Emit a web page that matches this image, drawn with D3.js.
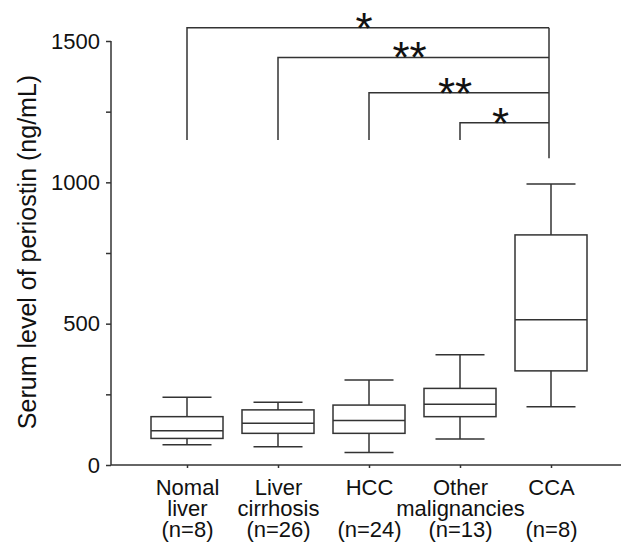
<!DOCTYPE html>
<html lang="en">
<head>
  <meta charset="UTF-8" />
  <title>Serum periostin box plot</title>
  <script src="https://d3js.org/d3.v7.min.js"></script>
  <style>
    body {
      margin: 0;
      background: #fff;
      font-family: "Liberation Sans", Arial, sans-serif;
    }
    svg {
      display: block;
    }
    .axis path, .axis line, .box line, .box rect, .bracket path {
      stroke: #333;
      stroke-width: 1.5px;
      fill: none;
    }
    text {
      fill: #111;
    }
  </style>
</head>
<body>
<script>
// groups and their labels (one entry per line)
const groups = ['Nomal liver', 'Liver cirrhosis', 'HCC', 'Other malignancies', 'CCA'];
const labelLines = [
  ['Nomal', 'liver', '(n=8)'],
  ['Liver', 'cirrhosis', '(n=26)'],
  ['HCC', '', '(n=24)'],
  ['Other', 'malignancies', '(n=13)'],
  ['CCA', '', '(n=8)']
];

// box stats (ng/mL)
const whiskerLow = [72, 65, 44, 92, 206];
const q1 = [94, 112, 112, 171, 333];
const median = [121, 148, 157, 215, 514];
const q3 = [171, 195, 212, 271, 814];
const whiskerHigh = [240, 222, 301, 390, 994];

const yTicks = [0, 250, 500, 750, 1000, 1250, 1500];
const yLabelTicks = [0, 500, 1000, 1500];

// significance brackets: from group -> to group, height, stars
const bracketFrom = [0, 1, 2, 3];
const bracketTo = [4, 4, 4, 4];
const bracketLevel = [1547, 1442, 1317, 1211];
const bracketStars = ['*', '**', '**', '*'];
const legBottom = 1150;
const ccaLegBottom = 1085;

const width = 621, height = 544;
const svg = d3.select('body').append('svg')
  .attr('width', width)
  .attr('height', height);

const x = d3.scalePoint().domain(groups).range([187, 551]);
const y = d3.scaleLinear().domain([0, 1500]).range([465, 41]);
const axisLeftX = 111;
const boxW = 72, capW = 49;

// y axis
const yAxis = svg.append('g')
  .attr('class', 'axis')
  .attr('transform', `translate(${axisLeftX},0)`)
  .call(d3.axisLeft(y).tickValues(yTicks).tickSize(5).tickSizeOuter(0).tickPadding(6)
    .tickFormat(d => yLabelTicks.includes(d) ? d : ''));
yAxis.selectAll('text')
  .style('font-size', '22px')
  .style('font-family', '"Liberation Sans", Arial, sans-serif');
yAxis.select('.domain').attr('d', `M0,${y(1500)}V${y(0)}`);

// x axis
const xAxis = svg.append('g')
  .attr('class', 'axis')
  .attr('transform', `translate(0,${y(0)})`)
  .call(d3.axisBottom(x).tickSize(3).tickSizeOuter(0).tickFormat(''));
xAxis.select('.domain').attr('d', `M${axisLeftX},0H${width}`);

// one text per line so the stacked labels stay tight like the original
const lineH = 21;
xAxis.selectAll('.tick').each(function(d, i) {
  const g = d3.select(this);
  labelLines[i].forEach((s, k) => {
    if (!s) return;
    g.append('text')
      .attr('text-anchor', 'middle')
      .attr('x', 0)
      .attr('y', 30 + k * lineH)
      .style('font-size', '22px')
      .style('font-family', '"Liberation Sans", Arial, sans-serif')
      .attr('fill', '#111')
      .text(s);
  });
});

// y title
svg.append('text')
  .attr('transform', `translate(36,${252}) rotate(-90)`)
  .attr('text-anchor', 'middle')
  .style('font-size', '25px')
  .text('Serum level of periostin (ng/mL)');

// boxes
const box = svg.append('g').attr('class', 'box')
  .selectAll('g')
  .data(groups)
  .join('g')
  .attr('transform', d => `translate(${x(d)},0)`);

box.append('line')
  .attr('y1', (d, i) => y(whiskerHigh[i])).attr('y2', (d, i) => y(q3[i]));
box.append('line')
  .attr('y1', (d, i) => y(q1[i])).attr('y2', (d, i) => y(whiskerLow[i]));
box.append('line')
  .attr('x1', -capW / 2).attr('x2', capW / 2)
  .attr('y1', (d, i) => y(whiskerHigh[i])).attr('y2', (d, i) => y(whiskerHigh[i]));
box.append('line')
  .attr('x1', -capW / 2).attr('x2', capW / 2)
  .attr('y1', (d, i) => y(whiskerLow[i])).attr('y2', (d, i) => y(whiskerLow[i]));
box.append('rect')
  .attr('x', -boxW / 2).attr('width', boxW)
  .attr('y', (d, i) => y(q3[i]))
  .attr('height', (d, i) => y(q1[i]) - y(q3[i]));
box.append('line')
  .attr('x1', -boxW / 2).attr('x2', boxW / 2)
  .attr('y1', (d, i) => y(median[i])).attr('y2', (d, i) => y(median[i]));

// significance brackets
const br = svg.append('g').attr('class', 'bracket');
bracketLevel.forEach((lv, i) => {
  const x1 = x(groups[bracketFrom[i]]);
  const x2 = x(groups[bracketTo[i]]) - 2;
  br.append('path')
    .attr('d', `M${x1},${y(legBottom)}V${y(lv)}H${x2}`);
  svg.append('text')
    .attr('x', (x1 + x2) / 2 - 4)
    .attr('y', y(lv) + 16)
    .attr('text-anchor', 'middle')
    .style('font-size', '44px')
    .text(bracketStars[i]);
});
br.append('path')
  .attr('d', `M${x(groups[4]) - 2},${y(d3.max(bracketLevel))}V${y(ccaLegBottom)}`);
</script>
</body>
</html>
